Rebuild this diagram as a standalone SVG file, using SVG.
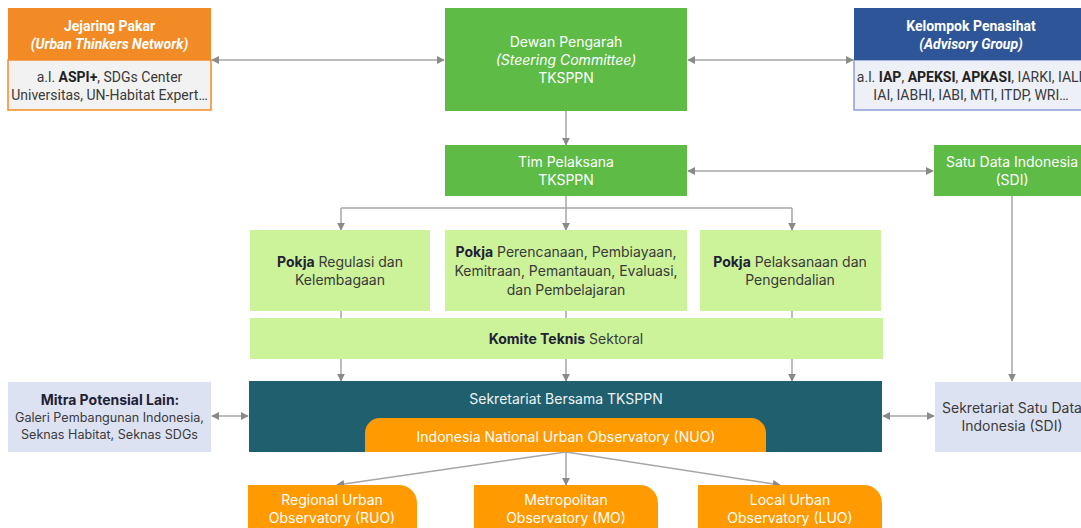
<svg xmlns="http://www.w3.org/2000/svg" width="1081" height="528" viewBox="0 0 1081 528">
<defs>
<marker id="ah" viewBox="0 0 10 10" refX="9" refY="5" markerWidth="8" markerHeight="8" markerUnits="userSpaceOnUse" orient="auto-start-reverse">
<path d="M0 0 L10 5 L0 10 Z" fill="#8a8a8a"/>
</marker>
<style>
.c{fill:none;stroke:#a6a6a6;stroke-width:1.5}
.ca{fill:none;stroke:#a6a6a6;stroke-width:1.5;marker-end:url(#ah)}
.cb{fill:none;stroke:#a6a6a6;stroke-width:1.5;marker-start:url(#ah);marker-end:url(#ah)}
.r{font-family:Roboto,"Liberation Sans",sans-serif;font-size:14px;text-anchor:middle}
.i{font-family:Inter,"Noto Sans","Liberation Sans",sans-serif;font-size:14px;text-anchor:middle}
.sm{font-size:12.6px}
.w{fill:#ffffff}
.d{fill:#3a3a3a}
.b{font-weight:700;fill:#1f2235}
.it{font-style:italic}
.green{fill:#5dbb46}
.lg{fill:#ccf29a}
.org{fill:#ff9a00}
.lav{fill:#dde2f3}
</style>
</defs>
<rect width="1081" height="528" fill="#ffffff"/>

<g id="connectors">
<line class="cb" x1="212" y1="60" x2="444" y2="60"/>
<line class="cb" x1="688" y1="60" x2="853" y2="60"/>
<line class="ca" x1="566" y1="111" x2="566" y2="145"/>
<line class="cb" x1="688" y1="171" x2="933" y2="171"/>
<polyline class="c" points="341,208 792,208"/>
<line class="c" x1="566" y1="196" x2="566" y2="208"/>
<line class="ca" x1="341" y1="208" x2="341" y2="230"/>
<line class="ca" x1="566" y1="208" x2="566" y2="230"/>
<line class="ca" x1="792" y1="208" x2="792" y2="230"/>
<line class="ca" x1="341" y1="311" x2="341" y2="381"/>
<line class="ca" x1="566" y1="311" x2="566" y2="381"/>
<line class="ca" x1="792" y1="311" x2="792" y2="381"/>
<line class="ca" x1="1012" y1="196" x2="1012" y2="381"/>
<line class="cb" x1="212" y1="416" x2="248" y2="416"/>
<line class="cb" x1="883" y1="416" x2="934" y2="416"/>
<line class="ca" x1="566" y1="452" x2="337" y2="485"/>
<line class="ca" x1="566" y1="452" x2="566" y2="485"/>
<line class="ca" x1="566" y1="452" x2="780" y2="485"/>
</g>

<g id="jejaring-pakar">
<rect x="8" y="60" width="203" height="50" fill="#f2f2f2" stroke="#f28b26" stroke-width="1.5"/>
<rect x="8" y="8" width="203" height="52" fill="#f28b26"/>
<text class="r b" x="109.5" y="31" style="fill:#fff">Jejaring Pakar</text>
<text class="r b it" x="109.5" y="49" style="fill:#fff">(Urban Thinkers Network)</text>
<text class="r d" x="109.5" y="82">a.l. <tspan class="b" style="fill:#222">ASPI+</tspan>, SDGs Center</text>
<text class="r d" x="109.5" y="100">Universitas, UN-Habitat Expert…</text>
</g>

<g id="dewan-pengarah">
<rect class="green" x="445" y="8" width="242" height="103"/>
<text class="i w" x="566" y="47">Dewan Pengarah</text>
<text class="i w it" x="566" y="65">(Steering Committee)</text>
<text class="i w" x="566" y="83">TKSPPN</text>
</g>

<g id="kelompok-penasihat">
<rect x="854" y="60" width="236" height="50" fill="#eef0f7" stroke="#8c9fd9" stroke-width="1.5"/>
<rect x="854" y="8" width="236" height="52" fill="#2e5597"/>
<text class="r b" x="971" y="31" style="fill:#fff">Kelompok Penasihat</text>
<text class="r b it" x="971" y="49" style="fill:#fff">(Advisory Group)</text>
<text class="r d" x="971" y="82">a.l. <tspan class="b" style="fill:#222">IAP</tspan>, <tspan class="b" style="fill:#222">APEKSI</tspan>, <tspan class="b" style="fill:#222">APKASI</tspan>, IARKI, IALI,</text>
<text class="r d" x="971" y="100">IAI, IABHI, IABI, MTI, ITDP, WRI…</text>
</g>

<g id="tim-pelaksana">
<rect class="green" x="445" y="145" width="242" height="51"/>
<text class="i w" x="566" y="167">Tim Pelaksana</text>
<text class="i w" x="566" y="185">TKSPPN</text>
</g>

<g id="satu-data-indonesia">
<rect class="green" x="934" y="145" width="156" height="51"/>
<text class="i w" x="1012" y="167">Satu Data Indonesia</text>
<text class="i w" x="1012" y="185">(SDI)</text>
</g>

<g id="pokja-regulasi">
<rect class="lg" x="250" y="230" width="180" height="81"/>
<text class="i d" x="340" y="267"><tspan class="b">Pokja</tspan> Regulasi dan</text>
<text class="i d" x="340" y="285">Kelembagaan</text>
</g>

<g id="pokja-perencanaan">
<rect class="lg" x="445" y="230" width="242" height="81"/>
<text class="i d" x="566" y="257"><tspan class="b">Pokja</tspan> Perencanaan, Pembiayaan,</text>
<text class="i d" x="566" y="276">Kemitraan, Pemantauan, Evaluasi,</text>
<text class="i d" x="566" y="295">dan Pembelajaran</text>
</g>

<g id="pokja-pelaksanaan">
<rect class="lg" x="700" y="230" width="181" height="81"/>
<text class="i d" x="790" y="267"><tspan class="b">Pokja</tspan> Pelaksanaan dan</text>
<text class="i d" x="790" y="285">Pengendalian</text>
</g>

<g id="komite-teknis">
<rect class="lg" x="250" y="318" width="633" height="41"/>
<text class="i d" x="566" y="344"><tspan class="b">Komite Teknis</tspan>  Sektoral</text>
</g>

<g id="mitra-potensial">
<rect class="lav" x="8" y="382" width="203" height="70"/>
<text class="i b" x="110" y="405">Mitra Potensial Lain:</text>
<text class="i d sm" x="109.5" y="422">Galeri Pembangunan Indonesia,</text>
<text class="i d sm" x="109.5" y="439">Seknas Habitat, Seknas SDGs</text>
</g>

<g id="sekretariat-bersama">
<rect x="249" y="381" width="633" height="71" fill="#205f6e"/>
<text class="i" x="566" y="404" style="fill:#eef3f4">Sekretariat Bersama TKSPPN</text>
</g>

<g id="nuo">
<path class="org" d="M365 452 V433 A15 15 0 0 1 380 418 H751 A15 15 0 0 1 766 433 V452 Z"/>
<text class="i w" x="566" y="442">Indonesia National Urban Observatory (NUO)</text>
</g>

<g id="sekretariat-satu-data">
<rect class="lav" x="935" y="382" width="156" height="70"/>
<text class="i d" x="1012" y="413">Sekretariat Satu Data</text>
<text class="i d" x="1012" y="431">Indonesia (SDI)</text>
</g>

<g id="ruo">
<path class="org" d="M248 485 H399 A18 18 0 0 1 417 503 V545 H248 Z"/>
<text class="i w" x="332" y="505">Regional Urban</text>
<text class="i w" x="332" y="523">Observatory (RUO)</text>
</g>

<g id="mo">
<path class="org" d="M474 485 H640 A18 18 0 0 1 658 503 V545 H474 Z"/>
<text class="i w" x="566" y="505">Metropolitan</text>
<text class="i w" x="566" y="523">Observatory (MO)</text>
</g>

<g id="luo">
<path class="org" d="M698 485 H864 A18 18 0 0 1 882 503 V545 H698 Z"/>
<text class="i w" x="790" y="505">Local Urban</text>
<text class="i w" x="790" y="523">Observatory (LUO)</text>
</g>
</svg>
